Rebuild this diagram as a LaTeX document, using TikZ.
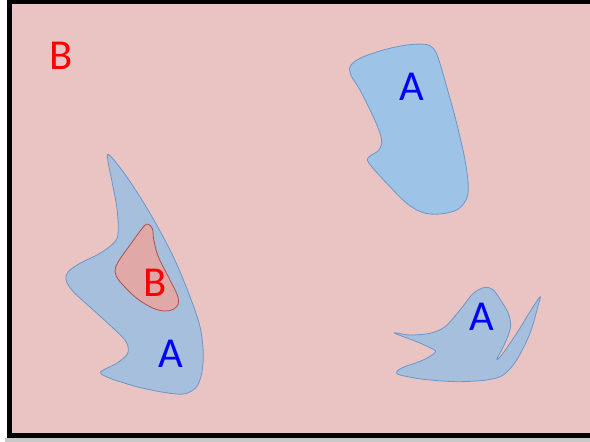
\documentclass[tikz,border=0pt]{standalone}
\usepackage{fontspec}
\setmainfont{Carlito}
\definecolor{bgpink}{HTML}{EAC4C3}
\definecolor{blobblue}{HTML}{9DC3E6}
\definecolor{blobgrey}{HTML}{A6BFDD}
\definecolor{blobline}{HTML}{6A97C9}
\definecolor{holefill}{HTML}{E0A8A6}
\definecolor{holeline}{HTML}{B0504C}
\definecolor{shadowgrey}{HTML}{C9C9C9}
\tikzset{
  region/.style={draw=blobline, line width=0.6pt, line join=round},
  hole/.style={draw=holeline, fill=holefill, line width=0.6pt},
  labA/.style={text=blue, font=\fontsize{32}{32}\selectfont, inner sep=0pt, anchor=base},
  labB/.style={text=red, font=\fontsize{32}{32}\selectfont, inner sep=0pt, anchor=base},
}
\begin{document}
\begin{tikzpicture}[x=0.75pt, y=-0.75pt]
\useasboundingbox (0,0) rectangle (590,442);
% drop shadow under the frame
\fill[shadowgrey] (5,438) rectangle (590,442);
\fill[white] (0,438) rectangle (5,442);
% outer frame: the B region
\draw[fill=bgpink, line width=3.8pt] (9.5,1) rectangle (600,435.5);

% left A region with its B hole
\draw[region, fill=blobgrey] plot[smooth cycle, tension=0.55] coordinates {
  (109.3,155) (126.7,176.7) (150,213.3) (173.3,256.7) (190,296.7)
  (200,326.7) (203.3,353.3) (201.7,373.3) (196.7,386.7) (186.7,393.3)
  (176.7,394) (160,391.7) (136.7,386.7) (110,378.3) (100.7,373.3)
  (103.3,370) (116.7,363.3) (126.7,355) (128.3,348.3) (125,340)
  (113.3,328.3) (93.3,310) (73.3,291.7) (66,280) (68.3,271.7)
  (80,263.3) (100,253.3) (115,241.7) (118.3,230) (116.7,206.7)
  (111.7,180) (107.8,160)};
\draw[hole] plot[smooth cycle, tension=0.55] coordinates {
  (148.3,224.3) (152.5,229) (153.8,240) (158.3,256.7) (170,280)
  (177.3,295) (178.3,304) (173.3,309.3) (165,311) (153.3,308.3)
  (136.7,298.3) (120,281.7) (115,271.7) (118.3,261.7) (130,245)
  (143.3,227)};

% upper right A region
\draw[region, fill=blobblue] plot[smooth cycle, tension=0.55] coordinates {
  (350,66.7) (360,58.3) (383.3,50) (406.7,45) (425,44.3) (433.3,48.3)
  (438.3,58.3) (446.7,86.7) (456.7,123.3) (465,160) (468.3,186.7)
  (466,200) (456.7,210) (440,214) (423.3,212.7) (406.7,203.3)
  (386.7,183.3) (371.7,166.7) (367.3,160) (370,156) (378.3,150.7)
  (381.7,143.3) (380,133.3) (373.3,116.7) (360,90) (351.7,76.7)};

% lower right A region
\draw[region, fill=blobgrey] plot[smooth cycle, tension=0.5] coordinates {
  (395,332.7) (410,335) (430,333.3) (445,326.7) (460,310) (473.3,293.3)
  (485,287.3) (493.3,290) (501.7,301.7) (508.3,313.3) (510.7,325)
  (508.3,335) (503.3,346.7) (496.7,359.3) (501.7,355) (516.7,333.3)
  (530,311.7) (540,296.7) (538.3,305) (530,333.3) (516.7,360)
  (503.3,375) (486.7,380) (456.7,381.7) (423.3,379.3) (400,375)
  (396.7,371.7) (403.3,367.3) (423.3,360) (435,352.7) (433.3,349.3)
  (416.7,341.7) (397,334.3)};

% labels
\node[labB] (outerB) at (61.5,70) {B};
\node[labB] (innerB) at (155.5,297) {B};
\node[labA] (leftA) at (170.5,368) {A};
\node[labA] (topA) at (412,101) {A};
\node[labA] (lowA) at (481.5,331) {A};
\end{tikzpicture}
\end{document}
